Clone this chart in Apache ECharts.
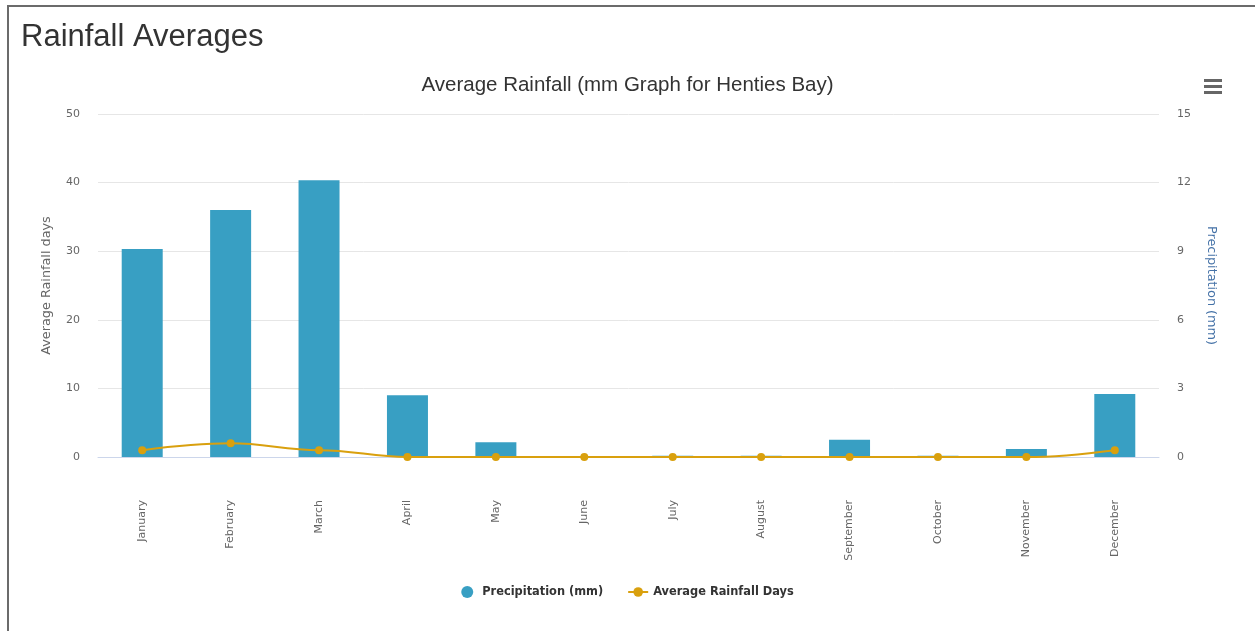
<!DOCTYPE html>
<html>
<head>
<meta charset="utf-8">
<script src="https://cdn.jsdelivr.net/npm/echarts@6/dist/echarts.min.js"></script>
<style>
  html, body { margin: 0; padding: 0; background: #fff; }
  #frame {
    position: absolute; left: 7px; top: 5px; width: 1260px; height: 640px;
    border-left: 2px solid #6b6b6b; border-top: 2px solid #6b6b6b;
    box-sizing: border-box;
  }
  #chart { position: absolute; left: 0; top: 0; width: 1255px; height: 631px; }
</style>
</head>
<body>
<div id="frame"></div>
<div id="chart"></div>
<script>
// Monthly averages for Henties Bay
const months = ['January', 'February', 'March', 'April', 'May', 'June',
  'July', 'August', 'September', 'October', 'November', 'December'];
const precipitationMm = [9.1, 10.8, 12.1, 2.7, 0.65, 0, 0.05, 0.05, 0.75, 0.05, 0.35, 2.75];
const rainfallDays = [1, 2, 1, 0, 0, 0, 0, 0, 0, 0, 0, 1];
const daysTicks = { min: 0, max: 50, interval: 10 };
const mmTicks = { min: 0, max: 15, interval: 3 };

const chart = echarts.init(document.getElementById('chart'), null, { renderer: 'canvas' });

const axisLabelFont = { color: '#666', fontSize: 11, fontFamily: 'DejaVu Sans' };

chart.setOption({
  animation: false,
  backgroundColor: 'transparent',
  title: [
    {
      text: 'Rainfall Averages', left: 21, top: 22, padding: 0,
      textStyle: { fontFamily: 'Liberation Sans', fontSize: 31, fontWeight: 'normal', color: '#333' }
    },
    {
      text: 'Average Rainfall (mm Graph for Henties Bay)', left: 'center', top: 75, padding: 0,
      textStyle: { fontFamily: 'Liberation Sans', fontSize: 20.5, fontWeight: 'normal', color: '#333' }
    }
  ],
  graphic: [
    { type: 'rect', left: 1204, top: 79, shape: { width: 18, height: 3 }, style: { fill: '#666' } },
    { type: 'rect', left: 1204, top: 85, shape: { width: 18, height: 3 }, style: { fill: '#666' } },
    { type: 'rect', left: 1204, top: 91, shape: { width: 18, height: 3 }, style: { fill: '#666' } }
  ],
  legend: {
    bottom: 28, left: 'center', itemGap: 24,
    itemWidth: 20, itemHeight: 12,
    textStyle: { fontFamily: 'DejaVu Sans', fontSize: 11.4, fontWeight: 'bold', color: '#333' },
    data: [
      { name: 'Precipitation (mm)', icon: 'circle', itemStyle: { color: '#389fc3' } },
      { name: 'Average Rainfall Days' }
    ]
  },
  grid: { left: 98, right: 96, top: 114, bottom: 174, containLabel: false },
  xAxis: {
    type: 'category',
    data: months,
    axisLine: { lineStyle: { color: '#ccd6eb', width: 1 } },
    axisTick: { show: false },
    axisLabel: Object.assign({ rotate: 90, margin: 43, interval: 0 }, axisLabelFont)
  },
  yAxis: [
    {
      type: 'value', position: 'left',
      min: daysTicks.min, max: daysTicks.max, interval: daysTicks.interval,
      name: 'Average Rainfall days', nameLocation: 'middle', nameGap: 45, nameRotate: 90,
      nameTextStyle: { color: '#666', fontSize: 12.8, fontFamily: 'DejaVu Sans' },
      axisLine: { show: false }, axisTick: { show: false },
      axisLabel: Object.assign({ margin: 18 }, axisLabelFont),
      splitLine: { lineStyle: { color: '#e6e6e6', width: 1 } }
    },
    {
      type: 'value', position: 'right',
      min: mmTicks.min, max: mmTicks.max, interval: mmTicks.interval,
      name: 'Precipitation (mm)', nameLocation: 'middle', nameGap: 46, nameRotate: -90,
      nameTextStyle: { color: '#4572a7', fontSize: 12.8, fontFamily: 'DejaVu Sans' },
      axisLine: { show: false }, axisTick: { show: false },
      axisLabel: Object.assign({ margin: 18 }, axisLabelFont),
      splitLine: { show: false }
    }
  ],
  series: [
    {
      name: 'Precipitation (mm)', type: 'bar', yAxisIndex: 1,
      data: precipitationMm, barWidth: 41,
      itemStyle: { color: '#389fc3' }, z: 2
    },
    {
      name: 'Average Rainfall Days', type: 'line', yAxisIndex: 0,
      data: rainfallDays, smooth: 0.4, smoothMonotone: 'x',
      symbol: 'circle', symbolSize: 8,
      lineStyle: { color: '#d9a00e', width: 2 },
      itemStyle: { color: '#d9a00e' }, z: 3
    }
  ]
});
</script>
</body>
</html>
